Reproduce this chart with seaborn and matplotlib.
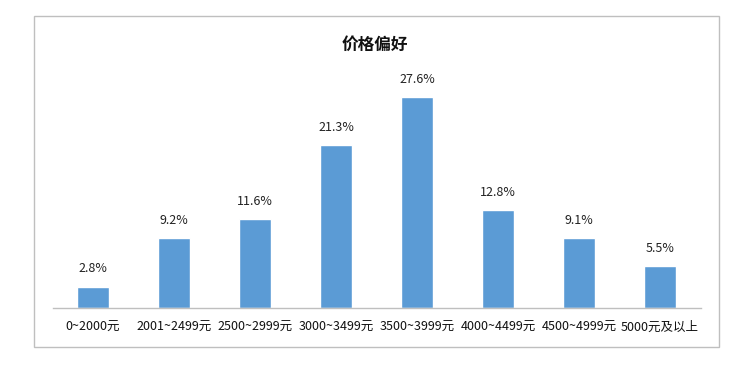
import matplotlib
matplotlib.use("Agg")
import matplotlib.pyplot as plt
import seaborn as sns
import pandas as pd
from matplotlib.patches import Rectangle

categories = ["0~2000元", "2001~2499元", "2500~2999元", "3000~3499元",
              "3500~3999元", "4000~4499元", "4500~4999元", "5000元及以上"]
values = [2.8, 9.2, 11.6, 21.3, 27.6, 12.8, 9.1, 5.5]
title = "价格偏好"

sns.set_style("white")
plt.rcParams['font.family'] = ['Noto Sans CJK SC', 'DejaVu Sans']

df = pd.DataFrame({"cat": categories, "val": values})

fig = plt.figure(figsize=(7.52, 3.66), dpi=100)
ax = fig.add_axes([52.5/752, 1-308/366, (700.5-52.5)/752, (308-78.8)/366])
sns.barplot(data=df, x="cat", y="val", color="#5B9BD5", width=0.4,
            saturation=1, ax=ax)
ax.set_ylim(0, 30)
ax.set_xlim(-0.5, len(categories)-0.5)
for i, v in enumerate(values):
    ax.annotate(f"{v:.1f}%", (i, v), xytext=(0, 8), textcoords="offset points",
                ha="center", va="bottom", fontsize=9, color="#222222")
ax.set_xlabel("")
ax.set_ylabel("")
ax.set_yticks([])
ax.tick_params(axis="x", length=0, pad=9, labelsize=9, colors="#111111")
for s in ["top", "right", "left"]:
    ax.spines[s].set_visible(False)
ax.spines["bottom"].set_color("#bfbfbf")
ax.spines["bottom"].set_linewidth(1.0)

fig.text(375/752, 1-45/366, title, ha="center", va="center",
         fontsize=12, fontweight="bold", color="#111111")
fig.patches.append(Rectangle((34/752, 1-347/366), (719-34)/752, (347-16)/366,
                             transform=fig.transFigure, fill=False,
                             edgecolor="#bfbfbf", linewidth=1.0))
fig.savefig("out.png", dpi=100)
